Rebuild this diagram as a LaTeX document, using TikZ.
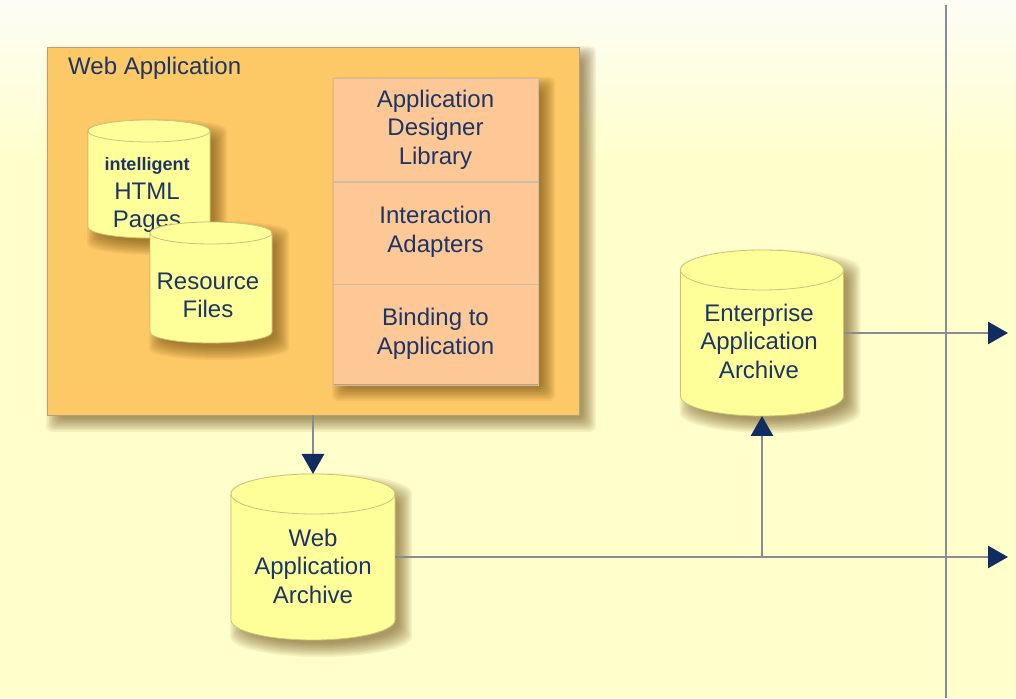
\documentclass[tikz,border=0pt]{standalone}
\usepackage{fontspec}
\setmainfont{Liberation Sans}
\usetikzlibrary{arrows.meta}
\definecolor{tipnavy}{HTML}{0F2D60}
\definecolor{txtnavy}{HTML}{1A3566}
\definecolor{linegray}{HTML}{858C96}
\definecolor{bgyellow}{HTML}{FFFFCC}
\definecolor{bgtop}{HTML}{FDFDF6}
\definecolor{boxorange}{HTML}{FDC866}
\definecolor{peach}{HTML}{FDC896}
\definecolor{cylyellow}{HTML}{FFFF99}
\definecolor{cylborder}{HTML}{C9C27A}
\definecolor{boxborder}{HTML}{B8A07A}
\definecolor{shadowcol}{HTML}{5A3A00}
\tikzset{
  shadowlayer/.style={fill=shadowcol, opacity=0.065},
  lbl/.style={text=txtnavy, font=\fontsize{24}{28.5}\selectfont, align=center, inner sep=0pt},
  anchornode/.style={inner sep=0pt, outer sep=0pt, rectangle},
  cylbody/.style={fill=cylyellow, draw=cylborder, line width=0.8pt},
  cylrim/.style={draw=cylborder, line width=0.8pt},
  bigbox/.style={fill=boxorange, draw=boxborder, line width=0.8pt},
  stackbox/.style={fill=peach, draw=boxborder, line width=0.8pt},
  rowbox/.style={draw=boxborder!70, line width=0.6pt, inner sep=0pt, minimum width=205pt},
  conn/.style={draw=linegray, line width=2.8pt, -{Triangle[length=20pt,width=22pt,color=tipnavy]}},
  plainline/.style={draw=linegray, line width=2.8pt},
}
\newcommand{\shadowsizes}{9,7.5,6,4.5,3,1.5,0,-1.5,-3,-4.5}
\newcommand{\rectshadow}[1]{%
  \foreach \e in \shadowsizes {%
    \fill[shadowlayer, rounded corners=6pt] ([shift={(8-\e,-8-\e)}]#1.south west) rectangle ([shift={(8+\e,-8+\e)}]#1.north east);
  }%
}
\newcommand{\mkcyl}[6]{%
  \node[anchornode, minimum width=#4pt, minimum height=#5pt] (#1) at (#2,#3) {};
  \pgfmathsetmacro{\cylrx}{#4/2}%
  \foreach \e in \shadowsizes {%
    \fill[shadowlayer] ([shift={(8-\e,-8-#6+\e)}]#1.north west) -- ([shift={(8-\e,-8+#6-\e)}]#1.south west)
      arc[start angle=180, end angle=360, x radius={(\cylrx+\e)*1pt}, y radius=#6pt]
      -- ([shift={(8+\e,-8-#6+\e)}]#1.north east)
      arc[start angle=0, end angle=180, x radius={(\cylrx+\e)*1pt}, y radius=#6pt] -- cycle;
  }%
  \path[cylbody] ([yshift=-#6pt]#1.north west) -- ([yshift=#6pt]#1.south west)
     arc[start angle=180, end angle=360, x radius=\cylrx pt, y radius=#6pt]
     -- ([yshift=-#6pt]#1.north east)
     arc[start angle=0, end angle=180, x radius=\cylrx pt, y radius=#6pt] -- cycle;
  \draw[cylrim] ([yshift=-#6pt]#1.north west) arc[start angle=180, end angle=360, x radius=\cylrx pt, y radius=#6pt];
}
\begin{document}
\begin{tikzpicture}[x=1pt,y=1pt]
\useasboundingbox (0,0) rectangle (1016,698);
\fill[bgyellow] (0,0) rectangle (1016,698);
\shade[top color=bgtop, bottom color=bgyellow] (0,540) rectangle (1016,698);

% vertical separator
\coordinate (vtop) at (946,693);
\coordinate (vbot) at (946,0);
\draw[plainline] (vtop) -- (vbot);

% Web application box
\node[anchornode, minimum width=532pt, minimum height=368pt] (webapp) at (313,467) {};
\rectshadow{webapp}
\draw[bigbox] (webapp.south west) rectangle (webapp.north east);
\node[lbl, anchor=base west] (title) at (68,623) {Web Application};

% stack
\node[anchornode, minimum width=205pt, minimum height=306pt] (stack) at (435.5,467) {};
\rectshadow{stack}
\draw[stackbox] (stack.south west) rectangle (stack.north east);
\node[rowbox, minimum height=103pt, anchor=north] (adl) at (stack.north) {};
\node[lbl] (adltxt) at (adl.center) {Application\\Designer\\Library};
\node[rowbox, minimum height=102pt, anchor=north] (ia) at (adl.south) {};
\node[lbl] (iatxt) at ([yshift=1pt]ia.center) {Interaction\\Adapters};
\node[rowbox, minimum height=101pt, anchor=north] (bta) at (ia.south) {};
\node[lbl] (btatxt) at ([yshift=1pt]bta.center) {Binding to\\Application};

% HTML pages cylinder
\mkcyl{html}{149}{519}{122}{118}{11}
\node[lbl] (htmltxt) at (147,503) {{\fontsize{18}{24}\selectfont\bfseries intelligent}\\HTML\\Pages};

% Resource files cylinder
\mkcyl{res}{211}{415.5}{122}{121}{11}
\node[lbl] (restxt) at (208,402.5) {Resource\\Files};

% Web application archive
\mkcyl{war}{313}{141}{164}{166}{20}
\node[lbl] (wartxt) at (313,132) {Web\\Application\\Archive};

% Enterprise application archive
\mkcyl{ear}{762}{365}{163}{166}{20}
\node[lbl] (eartxt) at (759,357) {Enterprise\\Application\\Archive};

% connectors
\coordinate (outedge) at (1008,0);
\draw[conn] (webapp.south) -- (war.north);
\draw[conn] (war.east) -- (war.east -| outedge);
\draw[conn] (war.east -| ear.south) -- (ear.south);
\draw[conn] (ear.east) -- (ear.east -| outedge);
\end{tikzpicture}
\end{document}
